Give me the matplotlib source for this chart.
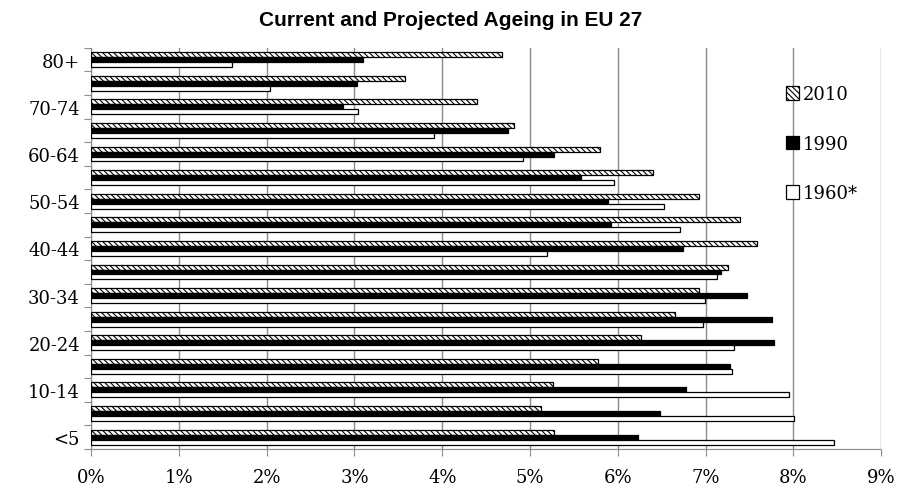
import matplotlib.pyplot as plt
import numpy as np

plt.rcParams['hatch.linewidth'] = 0.8

# age groups, youngest first (drawn from the bottom up)
ages = ['<5', '5-9', '10-14', '15-19', '20-24', '25-29', '30-34', '35-39',
        '40-44', '45-49', '50-54', '55-59', '60-64', '65-69', '70-74',
        '75-79', '80+']

# share of total population, %
y2010 = [5.27, 5.12, 5.26, 5.77, 6.26, 6.65, 6.92, 7.26, 7.58, 7.39, 6.92,
         6.40, 5.80, 4.82, 4.39, 3.57, 4.68]
y1990 = [6.23, 6.48, 6.78, 7.28, 7.78, 7.76, 7.47, 7.17, 6.74, 5.92, 5.89,
         5.58, 5.27, 4.75, 2.87, 3.03, 3.10]
y1960 = [8.46, 8.01, 7.95, 7.30, 7.32, 6.97, 6.99, 7.13, 5.19, 6.71, 6.53,
         5.96, 4.92, 3.90, 3.04, 2.04, 1.60]

serif = 'DejaVu Serif'

fig = plt.figure(figsize=(9.02, 4.89), dpi=100)
ax = fig.add_axes([0.101, 0.080, 0.876, 0.820])

pos = np.arange(len(ages))
h = 0.21
ax.barh(pos + h, y2010, height=h, color='white', edgecolor='black',
        hatch='\\' * 6, linewidth=0.9, label='2010', zorder=3)
ax.barh(pos, y1990, height=h, color='black', edgecolor='black',
        linewidth=0.9, label='1990', zorder=3)
ax.barh(pos - h, y1960, height=h, color='white', edgecolor='black',
        linewidth=0.9, label='1960*', zorder=3)

ax.set_xlim(0, 9)
ax.set_ylim(-0.5, len(ages) - 0.5)
ax.set_xticks(np.arange(0, 10, 1))
ax.set_xticklabels(['%d%%' % v for v in range(10)], fontfamily=serif,
                   fontsize=13)
ax.grid(axis='x', color='#8c8c8c', linewidth=1.0, zorder=0)

# tick marks on category boundaries, labels on every other category
ax.set_yticks(np.arange(-0.5, len(ages), 1))
ax.set_yticklabels([])
ax.set_yticks(pos[::2], minor=True)
ax.set_yticklabels(ages[::2], minor=True, fontfamily=serif, fontsize=13)
ax.tick_params(axis='y', which='major', length=5, color='#8c8c8c')
ax.tick_params(axis='y', which='minor', length=0, pad=8)
ax.tick_params(axis='x', length=5, color='#8c8c8c', pad=9)

for s in ['top', 'right']:
    ax.spines[s].set_visible(False)
for s in ['left', 'bottom']:
    ax.spines[s].set_color('#8c8c8c')

fig.text(0.5, 0.958, 'Current and Projected Ageing in EU 27',
         fontfamily='Liberation Sans', fontweight='bold', fontsize=15,
         ha='center', va='center')

ax.legend(loc='upper left', bbox_to_anchor=(0.870, 0.925), frameon=False,
          prop={'family': serif, 'size': 13}, handlelength=0.75,
          handleheight=0.75, handletextpad=0.2, labelspacing=1.75,
          borderaxespad=0)

fig.savefig('out.png', dpi=100)
